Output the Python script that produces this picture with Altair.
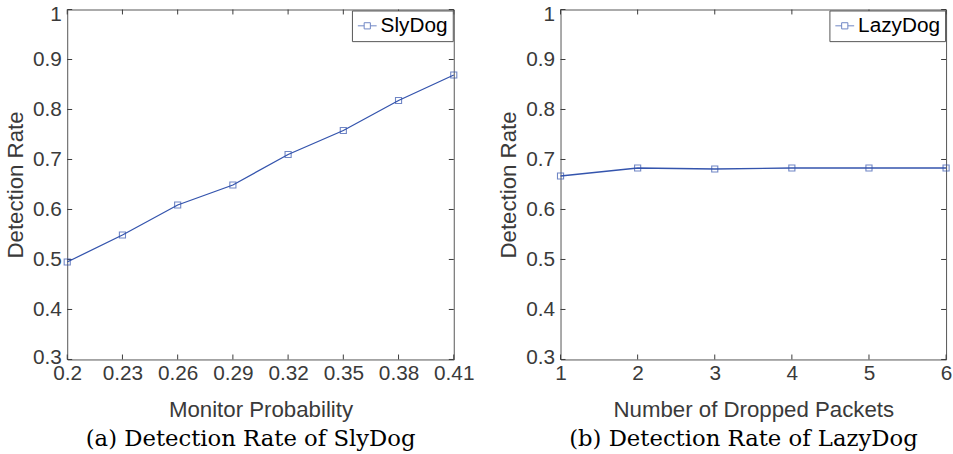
import altair as alt
import pandas as pd

# ---- data ----
sly_x = [0.2, 0.23, 0.26, 0.29, 0.32, 0.35, 0.38, 0.41]
sly_y = [0.495, 0.549, 0.609, 0.649, 0.71, 0.758, 0.818, 0.869]
lazy_x = [1, 2, 3, 4, 5, 6]
lazy_y = [0.667, 0.683, 0.681, 0.683, 0.683, 0.683]
sly_xticks = [0.2, 0.23, 0.26, 0.29, 0.32, 0.35, 0.38, 0.41]
lazy_xticks = [1, 2, 3, 4, 5, 6]
y_ticks = [0.3, 0.4, 0.5, 0.6, 0.7, 0.8, 0.9, 1.0]

LINE = "#3454ad"
AX = "#3a3a3a"
SANS = "Liberation Sans"
SERIF = "DejaVu Serif"
W1, W2, H = 391, 390, 354
TL = 5
SYMBOL = "M-1,0L-0.33,0M0.33,0L1,0M-0.33,-0.33L0.33,-0.33L0.33,0.33L-0.33,0.33Z"


def panel(xs, ys, name, xticks, xdom, xtitle, caption, w, fmt):
    df = pd.DataFrame({"x": xs, "y": ys, "s": [name] * len(xs)})
    xt = pd.DataFrame({"t": xticks})
    yt = pd.DataFrame({"t": y_ticks})
    xsc = alt.Scale(domain=xdom, nice=False, zero=False)
    ysc = alt.Scale(domain=[0.3, 1.0], nice=False, zero=False)
    xax = alt.Axis(values=xticks, format=fmt, tickSize=0, domain=False, grid=False,
                   labelFont=SANS, labelFontSize=21, labelColor=AX, labelPadding=3,
                   labelFlush=False, title=xtitle, titleFont=SANS, titleFontSize=22.5,
                   titleFontWeight="normal", titleColor=AX, titlePadding=16)
    yax = alt.Axis(values=y_ticks, format="~g", tickSize=0, domain=False, grid=False,
                   labelFont=SANS, labelFontSize=21, labelColor=AX, labelPadding=6,
                   labelFlush=False,
                   labelOffset={"condition": [
                       {"test": "datum.value >= 0.99", "value": 5},
                       {"test": "datum.value <= 0.31", "value": -2}],
                       "value": 0},
                   title="Detection Rate", titleFont=SANS,
                   titleFontSize=22.5, titleFontWeight="normal", titleColor=AX,
                   titlePadding=5)
    color = alt.Color("s:N", scale=alt.Scale(domain=[name], range=[LINE]),
                      legend=alt.Legend(title=None, orient="top-right", offset=1,
                                        strokeColor="#555", fillColor="white",
                                        padding=5, symbolType=SYMBOL, symbolSize=361,
                                        symbolStrokeWidth=1, labelOffset=3,
                                        labelFont=SANS, labelFontSize=21,
                                        labelColor="black", symbolFillColor="transparent"))
    line = alt.Chart(df).mark_line(color=LINE, strokeWidth=1.3).encode(
        x=alt.X("x:Q", scale=xsc, axis=xax), y=alt.Y("y:Q", scale=ysc, axis=yax))
    pts = alt.Chart(df).mark_point(shape="square", filled=False, size=38,
                                   strokeWidth=1.1).encode(
        x=alt.X("x:Q", scale=xsc), y=alt.Y("y:Q", scale=ysc), color=color)
    bt = alt.Chart(xt).mark_rule(color=AX, strokeWidth=1).encode(
        x=alt.X("t:Q", scale=xsc), y=alt.value(H), y2=alt.value(H - TL))
    tt = alt.Chart(xt).mark_rule(color=AX, strokeWidth=1).encode(
        x=alt.X("t:Q", scale=xsc), y=alt.value(0), y2=alt.value(TL))
    lt = alt.Chart(yt).mark_rule(color=AX, strokeWidth=1).encode(
        y=alt.Y("t:Q", scale=ysc), x=alt.value(0), x2=alt.value(TL))
    rt = alt.Chart(yt).mark_rule(color=AX, strokeWidth=1).encode(
        y=alt.Y("t:Q", scale=ysc), x=alt.value(w), x2=alt.value(w - TL))
    return alt.layer(bt, tt, lt, rt, line, pts).properties(
        width=w, height=H,
        title=alt.TitleParams(caption, orient="bottom", font=SERIF, fontSize=23,
                              fontWeight="normal", color="black", offset=7, dx=-10,
                              anchor="middle"))


left = panel(sly_x, sly_y, "SlyDog", sly_xticks, [0.2, 0.41], "Monitor Probability",
             "(a) Detection Rate of SlyDog", W1, "~g")
right = panel(lazy_x, lazy_y, "LazyDog", lazy_xticks, [1, 6], "Number of Dropped Packets",
              "(b) Detection Rate of LazyDog", W2, "d")

chart = alt.hconcat(left, right, spacing=23).resolve_scale(
    x="independent", y="independent", color="independent").properties(
    padding={"left": 4, "top": 0, "right": 0, "bottom": 0},
    background="white").configure_view(stroke="#555", strokeWidth=1)

chart.save("out.html", embed_options={"renderer": "svg", "actions": False})
